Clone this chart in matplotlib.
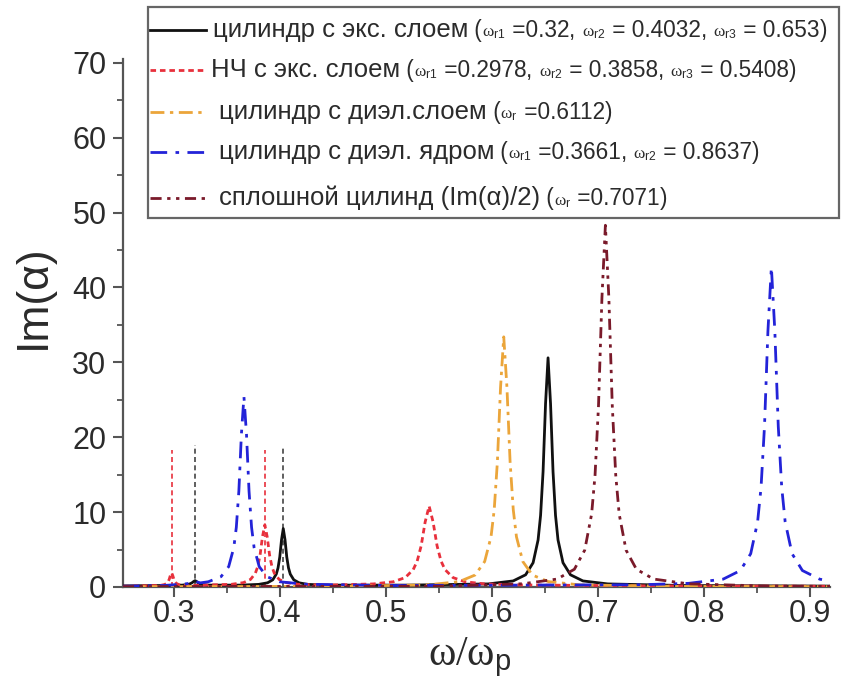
import matplotlib
matplotlib.use("Agg")
import matplotlib.pyplot as plt
from matplotlib.lines import Line2D
from matplotlib.patches import Rectangle
from matplotlib.offsetbox import TextArea, HPacker, AnchoredOffsetbox
from matplotlib.ticker import MultipleLocator

plt.rcParams["font.family"] = ["Liberation Sans", "DejaVu Sans"]
plt.rcParams["mathtext.fontset"] = "custom"
plt.rcParams["mathtext.rm"] = "Liberation Serif"
plt.rcParams["mathtext.it"] = "Liberation Serif:italic"
plt.rcParams["mathtext.bf"] = "Liberation Serif:bold"
plt.rcParams["mathtext.sf"] = "Liberation Sans"

# ---- spectra: Im(alpha) versus omega/omega_p ----
# cylinder with an excitonic layer
cyl_exc_x = [0.252, 0.29, 0.308, 0.314, 0.317, 0.3185, 0.32, 0.3215, 0.323, 0.326, 0.332,
             0.3636, 0.3801, 0.38835, 0.3933, 0.3966, 0.39825, 0.3999, 0.40155, 0.4032,
             0.40485, 0.4065, 0.40815, 0.4098, 0.4131, 0.41805, 0.4263, 0.4428, 0.52,
             0.5966, 0.6201, 0.63185, 0.6389, 0.6436, 0.64595, 0.6483, 0.65065, 0.653,
             0.65535, 0.6577, 0.66005, 0.6624, 0.6671, 0.67415, 0.6859, 0.7094, 0.78, 0.919]
cyl_exc_y = [0.15, 0.20, 0.25, 0.35, 0.55, 0.72, 0.85, 0.72, 0.55, 0.35, 0.25,
             0.25, 0.35, 0.56, 0.96, 1.72, 2.54, 4.0, 6.3, 7.8,
             6.3, 4.0, 2.54, 1.72, 0.96, 0.56, 0.35, 0.25, 0.25,
             0.41, 0.81, 1.63, 3.24, 6.28, 9.56, 15.4, 24.5, 30.6,
             24.5, 15.4, 9.56, 6.28, 3.24, 1.63, 0.81, 0.41, 0.20, 0.12]
cyl_exc_res = [0.32, 0.4032, 0.653]

# nanoparticle with an excitonic layer
np_exc_x = [0.252, 0.2824, 0.2879, 0.2912, 0.2934, 0.2945, 0.2956, 0.2967, 0.2978, 0.2989,
            0.3, 0.3011, 0.3022, 0.3044, 0.3077, 0.3132, 0.3318, 0.3543, 0.36555, 0.3723,
            0.3768, 0.37905, 0.3813, 0.38355, 0.3858, 0.38805, 0.3903, 0.39255, 0.3948,
            0.3993, 0.40605, 0.4173, 0.4398, 0.4508, 0.4883, 0.50705, 0.5183, 0.5258,
            0.52955, 0.5333, 0.53705, 0.5408, 0.54455, 0.5483, 0.55205, 0.5558, 0.5633,
            0.57455, 0.5933, 0.6308, 0.75, 0.919]
np_exc_y = [0.10, 0.19, 0.23, 0.33, 0.50, 0.69, 1.03, 1.55, 1.90, 1.55,
            1.03, 0.69, 0.50, 0.33, 0.23, 0.19, 0.26, 0.36, 0.58, 1.01,
            1.82, 2.69, 4.25, 6.68, 8.30, 6.68, 4.25, 2.69, 1.82,
            1.01, 0.58, 0.36, 0.26, 0.27, 0.41, 0.70, 1.26, 2.32,
            3.46, 5.50, 8.68, 10.8, 8.68, 5.50, 3.46, 2.32, 1.26,
            0.70, 0.41, 0.27, 0.15, 0.10]
np_exc_res = [0.2978, 0.3858, 0.5408]

# cylinder with a dielectric layer
cyl_diel_x = [0.252, 0.45, 0.5392, 0.5692, 0.5842, 0.5932, 0.5992, 0.6022, 0.6052, 0.6082,
              0.6112, 0.6142, 0.6172, 0.6202, 0.6232, 0.6292, 0.6382, 0.6532, 0.6832, 0.78,
              0.919]
cyl_diel_y = [0.05, 0.08, 0.28, 0.72, 1.6, 3.4, 6.7, 10.3, 16.7, 26.7,
              33.4, 26.7, 16.7, 10.3, 6.7, 3.4, 1.6, 0.72, 0.28, 0.08,
              0.05]
cyl_diel_res = [0.6112]

# cylinder with a dielectric core
core_x = [0.252, 0.29, 0.3085, 0.315, 0.32, 0.325, 0.3325, 0.3445, 0.3517, 0.3565,
          0.3589, 0.3613, 0.3637, 0.3661, 0.3685, 0.3709, 0.3733, 0.3757, 0.3805, 0.3877,
          0.3997, 0.4237, 0.50, 0.74, 0.7857, 0.8182, 0.83445, 0.8442, 0.8507, 0.85395,
          0.8572, 0.86045, 0.8637, 0.86695, 0.8702, 0.87345, 0.8767, 0.8832, 0.89295,
          0.9092, 0.919]
core_y = [0.10, 0.20, 0.37, 0.50, 0.75, 0.55, 0.70, 1.38, 2.72, 5.24,
          7.96, 12.8, 20.4, 25.4, 20.4, 12.8, 7.96, 5.24, 2.72, 1.38,
          0.70, 0.37, 0.20, 0.30, 0.49, 1.05, 2.2, 4.45, 8.7, 13.3,
          21.45, 34.2, 42.7, 34.2, 21.45, 13.3, 8.7, 4.45, 2.2,
          1.05, 0.78]
core_res = [0.3661, 0.8637]

# solid cylinder, Im(alpha)/2
solid_x = [0.252, 0.55, 0.6291, 0.6616, 0.67785, 0.6876, 0.6941, 0.69735, 0.7006, 0.70385,
           0.7071, 0.71035, 0.7136, 0.71685, 0.7201, 0.7266, 0.73635, 0.7526, 0.7851, 0.86,
           0.919]
solid_y = [0.05, 0.10, 0.43, 1.06, 2.37, 4.92, 9.74, 14.95, 24.2, 38.66,
           48.3, 38.66, 24.2, 14.95, 9.74, 4.92, 2.37, 1.06, 0.43, 0.12,
           0.08]
solid_res = [0.7071]

# resonance marker lines (position, height)
mark_red_x = [0.2978, 0.3858]
mark_red_h = [18.3, 18.3]
mark_black_x = [0.32, 0.4032]
mark_black_h = [19.0, 18.5]

x_ticks = [0.3, 0.4, 0.5, 0.6, 0.7, 0.8, 0.9]
y_ticks = [0, 10, 20, 30, 40, 50, 60, 70]

# ---- styles ----
C_BLACK = "#111111"
C_RED = "#e8303c"
C_ORANGE = "#eba53a"
C_BLUE = "#2323d8"
C_BROWN = "#7a1a2a"
TXT = "#2b2b2b"
AX = "#555555"

series = [
    (cyl_exc_x, cyl_exc_y, dict(color=C_BLACK, lw=2.0, ls="-")),
    (np_exc_x, np_exc_y, dict(color=C_RED, lw=2.0, ls=(0, (2, 1.4)))),
    (cyl_diel_x, cyl_diel_y, dict(color=C_ORANGE, lw=2.0, ls=(0, (5, 2, 1.2, 2)))),
    (core_x, core_y, dict(color=C_BLUE, lw=2.0, ls=(0, (6, 3, 1.3, 3)))),
    (solid_x, solid_y, dict(color=C_BROWN, lw=2.0, ls=(0, (4, 2, 1.2, 2, 1.2, 2)))),
]

W, H = 844, 695
fig = plt.figure(figsize=(W / 100, H / 100), dpi=100)
ax = fig.add_axes([123 / W, 1 - 587 / H, 707 / W, 528 / H])

for xs, ys, st in series:
    ax.plot(xs, ys, **st, zorder=3)

ax.vlines(mark_red_x, 0, mark_red_h, colors=C_RED, lw=1.2, linestyles=[(0, (3, 2))], zorder=2)
ax.vlines(mark_black_x, 0, mark_black_h, colors="#444444", lw=1.2, linestyles=[(0, (3, 2))], zorder=2)

ax.set_xlim(0.252, 0.919)
ax.set_ylim(0, 70.5)
ax.set_xticks(x_ticks)
ax.set_yticks(y_ticks)
ax.set_xticklabels([f"{v:.1f}" for v in x_ticks])
ax.xaxis.set_minor_locator(MultipleLocator(0.05))
ax.yaxis.set_minor_locator(MultipleLocator(5))

for s in ("top", "right"):
    ax.spines[s].set_visible(False)
for s in ("left", "bottom"):
    ax.spines[s].set_color(AX)
    ax.spines[s].set_linewidth(1.6)

ax.tick_params(which="major", direction="out", length=7, width=1.5, color=AX,
               labelsize=22, labelcolor=TXT)
ax.tick_params(axis="x", which="major", pad=2)
ax.tick_params(axis="y", which="major", pad=5)
ax.tick_params(which="minor", direction="out", length=4.5, width=1.3, color=AX)

ax.set_ylabel("Im(α)", fontsize=32, color=TXT)
ax.yaxis.set_label_coords(-0.098, 0.55)
ax.set_xlabel(r"$\mathrm{\omega}/\mathrm{\omega}_{\mathsf{p}}$", fontsize=30, color=TXT)
ax.xaxis.set_label_coords(0.49, -0.092)

# ---- legend box drawn in figure coordinates ----
def fx(px):
    return px / W

def fy(py):
    return 1 - py / H

box_l, box_t, box_r, box_b = 148, 7, 839, 218
fig.add_artist(Rectangle((fx(box_l), fy(box_b)), fx(box_r) - fx(box_l), fy(box_t) - fy(box_b),
                         transform=fig.transFigure, facecolor="white", edgecolor="#666666",
                         lw=1.6, zorder=5))

MAIN = 18.5
NUM = 16.3
SYM = 12.5


def om(sub):
    return (r"$\mathrm{\omega}_{\mathsf{%s}}$" % sub, SYM)


def params(subs, vals):
    parts = [(" (", NUM)]
    for i, (s, v) in enumerate(zip(subs, vals)):
        parts.append(om(s))
        parts.append((f" ={v}" if i == 0 else f" = {v}", NUM))
        if i < len(vals) - 1:
            parts.append((", ", NUM))
    parts.append((")", NUM))
    return parts


rows = [
    (30, 213, series[0][2], [("цилиндр с экс. слоем", MAIN)]
     + params(["r1", "r2", "r3"], cyl_exc_res)),
    (70, 211, series[1][2], [("НЧ с экс. слоем", MAIN)]
     + params(["r1", "r2", "r3"], np_exc_res)),
    (112, 219, series[2][2], [("цилиндр с диэл.слоем", MAIN)]
     + params(["r"], cyl_diel_res)),
    (152, 219, series[3][2], [("цилиндр с диэл. ядром", MAIN)]
     + params(["r1", "r2"], core_res)),
    (198, 219, series[4][2], [("сплошной цилинд (Im(α)/2)", MAIN)]
     + params(["r"], solid_res)),
]

for y, xt, st, parts in rows:
    fig.add_artist(Line2D([fx(150), fx(206)], [fy(y), fy(y)], transform=fig.transFigure,
                          zorder=6, **st))
    areas = [TextArea(txt, textprops=dict(size=size, color=TXT)) for txt, size in parts]
    pack = HPacker(children=areas, align="baseline", pad=0, sep=0)
    anchored = AnchoredOffsetbox(loc="center left", child=pack, pad=0, borderpad=0,
                                 frameon=False, bbox_to_anchor=(fx(xt), fy(y)),
                                 bbox_transform=fig.transFigure)
    anchored.set_zorder(7)
    fig.add_artist(anchored)

fig.savefig("out.png", dpi=100)
